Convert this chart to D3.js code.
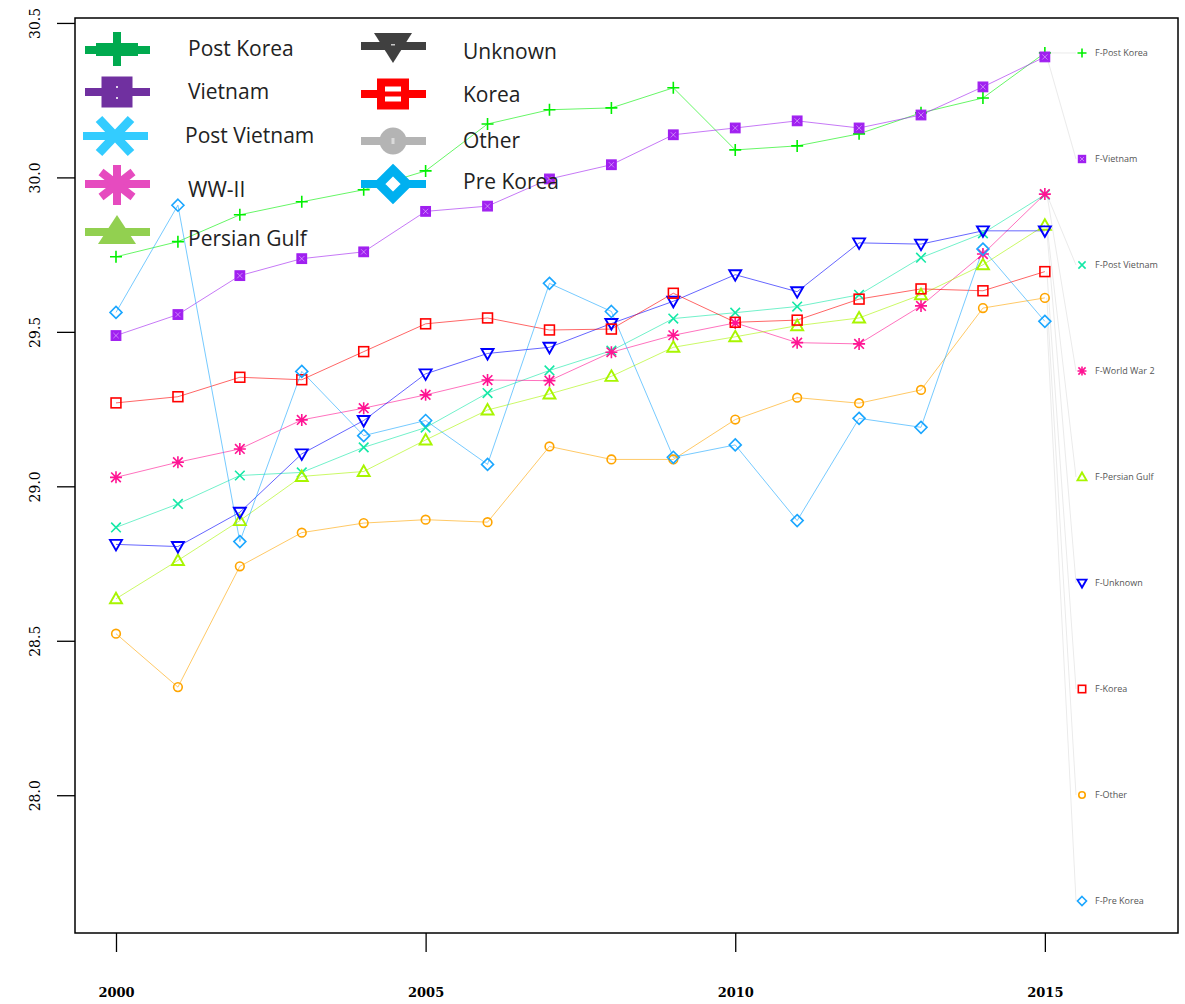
<!DOCTYPE html>
<html>
<head>
<meta charset="utf-8">
<script src="https://cdn.jsdelivr.net/npm/d3@7"></script>
<style>
  html, body { margin: 0; padding: 0; background: #fff; }
  svg { display: block; }
</style>
</head>
<body>
<svg id="chart" width="1185" height="1004"></svg>
<script>
// ---- data -------------------------------------------------------------
const years = [2000, 2001, 2002, 2003, 2004, 2005, 2006, 2007, 2008, 2009, 2010, 2011, 2012, 2013, 2014, 2015];

const postKorea   = [29.743, 29.792, 29.879, 29.921, 29.960, 30.021, 30.173, 30.219, 30.225, 30.290, 30.089, 30.102, 30.141, 30.209, 30.257, 30.403];
const vietnam     = [29.488, 29.556, 29.682, 29.737, 29.759, 29.890, 29.907, 29.995, 30.041, 30.138, 30.160, 30.183, 30.160, 30.202, 30.293, 30.390];
const postVietnam = [28.867, 28.943, 29.035, 29.045, 29.126, 29.190, 29.302, 29.375, 29.439, 29.543, 29.562, 29.582, 29.620, 29.740, 29.819, 29.944];
const ww2         = [29.029, 29.078, 29.121, 29.215, 29.253, 29.296, 29.344, 29.342, 29.434, 29.489, 29.529, 29.465, 29.461, 29.584, 29.752, 29.946];
const persianGulf = [28.636, 28.760, 28.889, 29.032, 29.048, 29.150, 29.247, 29.299, 29.356, 29.450, 29.484, 29.520, 29.545, 29.620, 29.717, 29.845];
const unknown     = [28.812, 28.805, 28.916, 29.105, 29.213, 29.364, 29.430, 29.450, 29.527, 29.599, 29.685, 29.630, 29.788, 29.784, 29.827, 29.827];
const korea       = [29.270, 29.290, 29.353, 29.345, 29.436, 29.526, 29.545, 29.506, 29.509, 29.625, 29.531, 29.538, 29.606, 29.639, 29.633, 29.695];
const other       = [28.523, 28.350, 28.741, 28.850, 28.881, 28.892, 28.884, 29.129, 29.087, 29.087, 29.216, 29.287, 29.269, 29.312, 29.577, 29.610];
const preKorea    = [29.563, 29.910, 28.821, 29.372, 29.164, 29.213, 29.071, 29.657, 29.566, 29.094, 29.134, 28.889, 29.220, 29.191, 29.768, 29.534];

const seriesValues = [postKorea, vietnam, postVietnam, ww2, persianGulf, unknown, korea, other, preKorea];
const seriesShapes = ["plus", "boxX", "cross", "asterisk", "triUp", "triDown", "square", "circle", "diamond"];
const seriesColors = ["#00F000", "#A020F0", "#14E8A6", "#FF1493", "#A8F500", "#0000FF", "#FF0000", "#FFA500", "#1AA6FF"];
const endLabels    = ["F-Post Korea", "F-Vietnam", "F-Post Vietnam", "F-World War 2", "F-Persian Gulf", "F-Unknown", "F-Korea", "F-Other", "F-Pre Korea"];

const legendNames  = ["Post Korea", "Vietnam", "Post Vietnam", "WW-II", "Persian Gulf", "Unknown", "Korea", "Other", "Pre Korea"];
const legendColors = ["#00AA4F", "#7030A0", "#33CCFF", "#E64BBF", "#92D050", "#404040", "#FF0000", "#B4B4B4", "#00B0F0"];

const yTicks = [28.0, 28.5, 29.0, 29.5, 30.0, 30.5];
const xTicks = [2000, 2005, 2010, 2015];

// ---- scales -----------------------------------------------------------
const frame = { left: 75, right: 1178, top: 18, bottom: 933 };
const x = d3.scaleLinear().domain([1999.338, 2017.15]).range([frame.left, frame.right]);
const y = d3.scaleLinear().domain([27.554, 30.516]).range([frame.bottom, frame.top]);

const svg = d3.select("#chart");

// ---- marker glyphs ----------------------------------------------------
function marker(g, shape, cx, cy, s, color) {
  const h = s / 2;
  const sw = 1.6;
  switch (shape) {
    case "plus":
      g.append("path").attr("d", `M${cx - h},${cy}H${cx + h}M${cx},${cy - h}V${cy + h}`)
        .attr("stroke", color).attr("stroke-width", sw).attr("fill", "none");
      break;
    case "cross": {
      const c = h * 0.8;
      g.append("path").attr("d", `M${cx - c},${cy - c}L${cx + c},${cy + c}M${cx - c},${cy + c}L${cx + c},${cy - c}`)
        .attr("stroke", color).attr("stroke-width", sw).attr("fill", "none");
      break;
    }
    case "asterisk": {
      const c = h * 0.8;
      g.append("path").attr("d",
        `M${cx - h},${cy}H${cx + h}M${cx},${cy - h}V${cy + h}M${cx - c},${cy - c}L${cx + c},${cy + c}M${cx - c},${cy + c}L${cx + c},${cy - c}`)
        .attr("stroke", color).attr("stroke-width", sw).attr("fill", "none");
      break;
    }
    case "boxX": {
      const b = h * 0.8;
      g.append("rect").attr("x", cx - b).attr("y", cy - b).attr("width", 2 * b).attr("height", 2 * b)
        .attr("fill", color).attr("stroke", color).attr("stroke-width", 1.2);
      const c = b * 0.55;
      g.append("path").attr("d", `M${cx - c},${cy - c}L${cx + c},${cy + c}M${cx - c},${cy + c}L${cx + c},${cy - c}`)
        .attr("stroke", "#fff").attr("stroke-opacity", 0.55).attr("stroke-width", 0.8).attr("fill", "none");
      break;
    }
    case "square": {
      const b = h * 0.82;
      g.append("rect").attr("x", cx - b).attr("y", cy - b).attr("width", 2 * b).attr("height", 2 * b)
        .attr("fill", "none").attr("stroke", color).attr("stroke-width", sw);
      break;
    }
    case "circle":
      g.append("circle").attr("cx", cx).attr("cy", cy).attr("r", h * 0.72)
        .attr("fill", "none").attr("stroke", color).attr("stroke-width", sw);
      break;
    case "triUp":
      g.append("path").attr("d", `M${cx},${cy - h}L${cx + h},${cy + h * 0.75}L${cx - h},${cy + h * 0.75}Z`)
        .attr("fill", "none").attr("stroke", color).attr("stroke-width", 1.9);
      break;
    case "triDown":
      g.append("path").attr("d", `M${cx - h},${cy - h * 0.75}L${cx + h},${cy - h * 0.75}L${cx},${cy + h}Z`)
        .attr("fill", "none").attr("stroke", color).attr("stroke-width", 1.9);
      break;
    case "diamond":
      g.append("path").attr("d", `M${cx},${cy - h}L${cx + h},${cy}L${cx},${cy + h}L${cx - h},${cy}Z`)
        .attr("fill", "none").attr("stroke", color).attr("stroke-width", sw);
      break;
  }
}

// ---- end-of-line labels ----------------------------------------------
const labelY = d3.scalePoint().domain(endLabels).range([53, 901]);
const labelMarkX = 1082;
const connectors = svg.append("g");
seriesValues.forEach((vals, i) => {
  connectors.append("line")
    .attr("x1", x(years[years.length - 1]) + 2).attr("y1", y(vals[vals.length - 1]))
    .attr("x2", labelMarkX - 6).attr("y2", labelY(endLabels[i]))
    .attr("stroke", "#ebebeb").attr("stroke-width", 1);
});

// ---- series lines and markers ----------------------------------------
const line = d3.line().x((d, i) => x(years[i])).y(d => y(d));
const plot = svg.append("g");
seriesValues.forEach((vals, i) => {
  plot.append("path").datum(vals).attr("d", line)
    .attr("fill", "none").attr("stroke", seriesColors[i]).attr("stroke-opacity", 0.6).attr("stroke-width", 1);
});
seriesValues.forEach((vals, i) => {
  const g = plot.append("g");
  vals.forEach((v, j) => marker(g, seriesShapes[i], x(years[j]), y(v), 12, seriesColors[i]));
});

const lab = svg.append("g");
endLabels.forEach((name, i) => {
  marker(lab, seriesShapes[i], labelMarkX, labelY(name), 9, seriesColors[i]);
  lab.append("text").attr("x", 1095).attr("y", labelY(name)).attr("dy", "0.35em")
    .attr("font-family", "Open Sans, sans-serif").attr("font-size", 9).attr("fill", "#555")
    .text(name);
});

// ---- frame and axes ---------------------------------------------------
svg.append("rect")
  .attr("x", frame.left).attr("y", frame.top)
  .attr("width", frame.right - frame.left).attr("height", frame.bottom - frame.top)
  .attr("fill", "none").attr("stroke", "#000").attr("stroke-width", 1.5);

const yAxis = svg.append("g").attr("transform", `translate(${frame.left},0)`)
  .call(d3.axisLeft(y).tickValues(yTicks).tickSize(18).tickFormat(d3.format(".1f")));
yAxis.select(".domain").remove();
yAxis.selectAll(".tick line").attr("stroke", "#000").attr("stroke-width", 1.3);
yAxis.selectAll(".tick text")
  .attr("font-family", "DejaVu Serif, serif").attr("font-size", 14).attr("fill", "#000")
  .attr("transform", "rotate(-90)").attr("x", 0).attr("y", -35).attr("dy", "0")
  .attr("text-anchor", "middle");

const xAxis = svg.append("g").attr("transform", `translate(0,${frame.bottom})`)
  .call(d3.axisBottom(x).tickValues(xTicks).tickSize(19).tickFormat(d3.format("d")));
xAxis.select(".domain").remove();
xAxis.selectAll(".tick line").attr("stroke", "#000").attr("stroke-width", 1.3);
xAxis.selectAll(".tick text")
  .attr("font-family", "DejaVu Serif, serif").attr("font-size", 13).attr("font-weight", "bold").attr("fill", "#000")
  .attr("y", 64).attr("dy", "0");

// ---- legend (two columns of large glyphs) ----------------------------
const legend = svg.append("g");
const legendRows = [
  { gx: 117, gy: 50, tx: 188, ty: 56 },
  { gx: 117, gy: 92, tx: 188, ty: 99 },
  { gx: 115, gy: 136, tx: 185, ty: 143 },
  { gx: 117, gy: 184, tx: 188, ty: 197 },
  { gx: 117, gy: 232, tx: 188, ty: 246 },
  { gx: 393, gy: 46, tx: 463, ty: 59 },
  { gx: 393, gy: 94, tx: 463, ty: 102 },
  { gx: 393, gy: 141, tx: 463, ty: 148 },
  { gx: 393, gy: 184, tx: 463, ty: 189 }
];

function bigGlyph(g, shape, cx, cy, color) {
  g.append("line").attr("x1", cx - 32).attr("x2", cx + 33).attr("y1", cy).attr("y2", cy)
    .attr("stroke", color).attr("stroke-width", 8);
  switch (shape) {
    case "plus":
      g.append("rect").attr("x", cx - 21).attr("y", cy - 7).attr("width", 42).attr("height", 13).attr("fill", color);
      g.append("rect").attr("x", cx - 4).attr("y", cy - 18).attr("width", 8).attr("height", 34).attr("fill", color);
      break;
    case "boxX":
      g.append("rect").attr("x", cx - 15.5).attr("y", cy - 15.5).attr("width", 31).attr("height", 31).attr("fill", color);
      g.append("path").attr("d", `M${cx - 1},${cy - 6}h2v2h-2zM${cx - 1},${cy + 5}h2v2h-2z`).attr("fill", "#fff").attr("opacity", 0.8);
      break;
    case "cross":
      g.append("path").attr("d", `M${cx - 16},${cy - 17}L${cx + 16},${cy + 17}M${cx - 16},${cy + 17}L${cx + 16},${cy - 17}`)
        .attr("stroke", color).attr("stroke-width", 9);
      break;
    case "asterisk":
      g.append("path").attr("d",
        `M${cx},${cy - 19}V${cy + 21}M${cx - 16},${cy - 12}L${cx + 16},${cy + 13}M${cx - 16},${cy + 13}L${cx + 16},${cy - 12}`)
        .attr("stroke", color).attr("stroke-width", 8);
      break;
    case "triUp":
      g.append("path").attr("d", `M${cx},${cy - 17}L${cx + 19},${cy + 12}L${cx - 19},${cy + 12}Z`).attr("fill", color);
      break;
    case "triDown":
      g.append("path").attr("d", `M${cx - 19},${cy - 13}L${cx + 19},${cy - 13}L${cx},${cy + 17}Z`).attr("fill", color);
      g.append("rect").attr("x", cx - 2).attr("y", cy - 2).attr("width", 4).attr("height", 1.5).attr("fill", "#fff").attr("opacity", 0.7);
      break;
    case "square":
      g.append("rect").attr("x", cx - 12).attr("y", cy - 11.5).attr("width", 24).attr("height", 23)
        .attr("fill", "#fff").attr("stroke", color).attr("stroke-width", 8);
      g.append("line").attr("x1", cx - 12).attr("x2", cx + 12).attr("y1", cy).attr("y2", cy)
        .attr("stroke", color).attr("stroke-width", 5);
      break;
    case "circle":
      g.append("circle").attr("cx", cx).attr("cy", cy).attr("r", 13.5).attr("fill", color);
      g.append("rect").attr("x", cx - 1.5).attr("y", cy - 3).attr("width", 3).attr("height", 6).attr("fill", "#fff").attr("opacity", 0.5);
      break;
    case "diamond":
      g.append("path").attr("d", `M${cx},${cy - 14}L${cx + 14},${cy}L${cx},${cy + 14}L${cx - 14},${cy}Z`)
        .attr("fill", "#fff").attr("stroke", color).attr("stroke-width", 9);
      break;
  }
}

legendNames.forEach((name, i) => {
  const r = legendRows[i];
  bigGlyph(legend, seriesShapes[i], r.gx, r.gy, legendColors[i]);
  legend.append("text").attr("x", r.tx).attr("y", r.ty)
    .attr("font-family", "Open Sans, sans-serif").attr("font-size", 21).attr("fill", "#222")
    .text(name);
});
</script>
</body>
</html>
